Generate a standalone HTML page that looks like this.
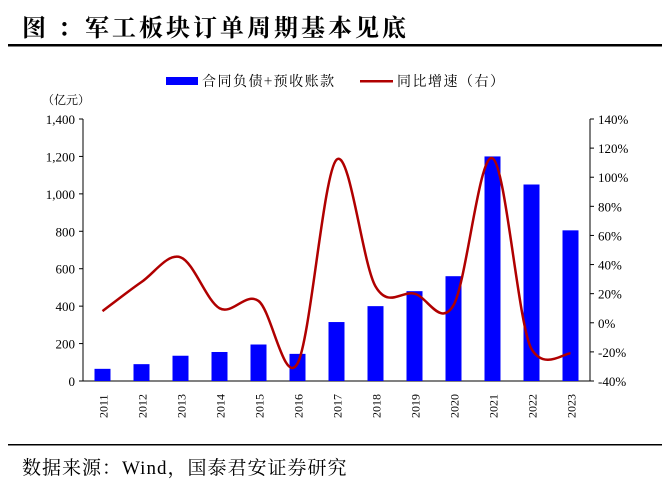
<!DOCTYPE html>
<html><head><meta charset="utf-8"><style>
body{margin:0;background:#fff;width:662px;height:485px;overflow:hidden}
svg text{font-family:"Liberation Serif","Noto Serif CJK SC",serif;fill:#000}
</style></head><body>
<svg id="s" width="662" height="485" xmlns="http://www.w3.org/2000/svg">
<text x="22" y="36" font-size="24" font-weight="bold" letter-spacing="3" style="font-family:'Noto Serif CJK SC','Noto Sans CJK SC',serif">图  ：军工板块订单周期基本见底</text>
<rect x="8" y="44" width="654" height="2.5" fill="#000"/>
<rect x="166" y="77" width="32" height="8" fill="#0000ff"/>
<text x="202" y="86" font-size="14" letter-spacing="1.5" style="font-family:'Noto Serif CJK SC',serif">合同负债+预收账款</text>
<rect x="360" y="80" width="33" height="2.5" fill="#b00000"/>
<text x="397" y="86" font-size="14" letter-spacing="1.5" style="font-family:'Noto Serif CJK SC',serif">同比增速（右）</text>
<text x="42" y="104" font-size="12" style="font-family:'Noto Serif CJK SC',serif">（亿元）</text>
<g id="g"></g>
<rect x="8" y="444" width="654" height="1.5" fill="#000"/>
<text x="22" y="474" font-size="19" letter-spacing="1" style="font-family:'Liberation Serif','Noto Serif CJK SC',serif">数据来源：Wind，国泰君安证券研究</text>
</svg>
<script>
var g=document.getElementById('g'),h='';
var L=83,R=590,T=119,B=381;
function yl(v){return B-(v/1400)*(B-T)}
function yr(v){return B-((v+40)/180)*(B-T)}
h+='<line x1="'+L+'" y1="'+T+'" x2="'+L+'" y2="'+B+'" stroke="#000"/>';
h+='<line x1="'+R+'" y1="'+T+'" x2="'+R+'" y2="'+B+'" stroke="#000"/>';
h+='<line x1="'+L+'" y1="'+B+'" x2="'+R+'" y2="'+B+'" stroke="#000"/>';
for(var v=0;v<=1400;v+=200){var y=yl(v);h+='<line x1="'+(L-4)+'" y1="'+y+'" x2="'+L+'" y2="'+y+'" stroke="#000"/>';
h+='<text x="'+(L-8)+'" y="'+(y+5)+'" font-size="13" text-anchor="end">'+v.toLocaleString('en-US')+'</text>';}
for(var p=-40;p<=140;p+=20){var y=yr(p);h+='<line x1="'+R+'" y1="'+y+'" x2="'+(R+4)+'" y2="'+y+'" stroke="#000"/>';
h+='<text x="'+(R+8)+'" y="'+(y+5)+'" font-size="13">'+p+'%</text>';}
var bars=[65,90,135,155,195,145,315,400,480,560,1200,1050,805];
var gr=[8,28,45,10,15,-28,112,25,20,12,113,-18,-21];
var w=(R-L)/13,pts=[];
for(var i=0;i<13;i++){var cx=L+w*(i+0.5);var by=yl(bars[i]);
h+='<rect x="'+(cx-8)+'" y="'+by+'" width="16" height="'+(B-by)+'" fill="#0000ff"/>';
h+='<text transform="translate('+(cx+5)+',418) rotate(-90)" font-size="12">'+(2011+i)+'</text>';
pts.push([cx,yr(gr[i])]);}
var d='M'+pts[0][0]+','+pts[0][1];
for(var i=0;i<12;i++){var p0=pts[Math.max(i-1,0)],p1=pts[i],p2=pts[i+1],p3=pts[Math.min(i+2,12)];
var k=(i>=10)?9:6;
d+=' C'+(p1[0]+(p2[0]-p0[0])/6)+','+(p1[1]+(p2[1]-p0[1])/k)+' '+(p2[0]-(p3[0]-p1[0])/6)+','+(p2[1]-(p3[1]-p1[1])/k)+' '+p2[0]+','+p2[1];}
h+='<path d="'+d+'" fill="none" stroke="#b00000" stroke-width="2.5"/>';
g.innerHTML=h;
</script>
</body></html>
